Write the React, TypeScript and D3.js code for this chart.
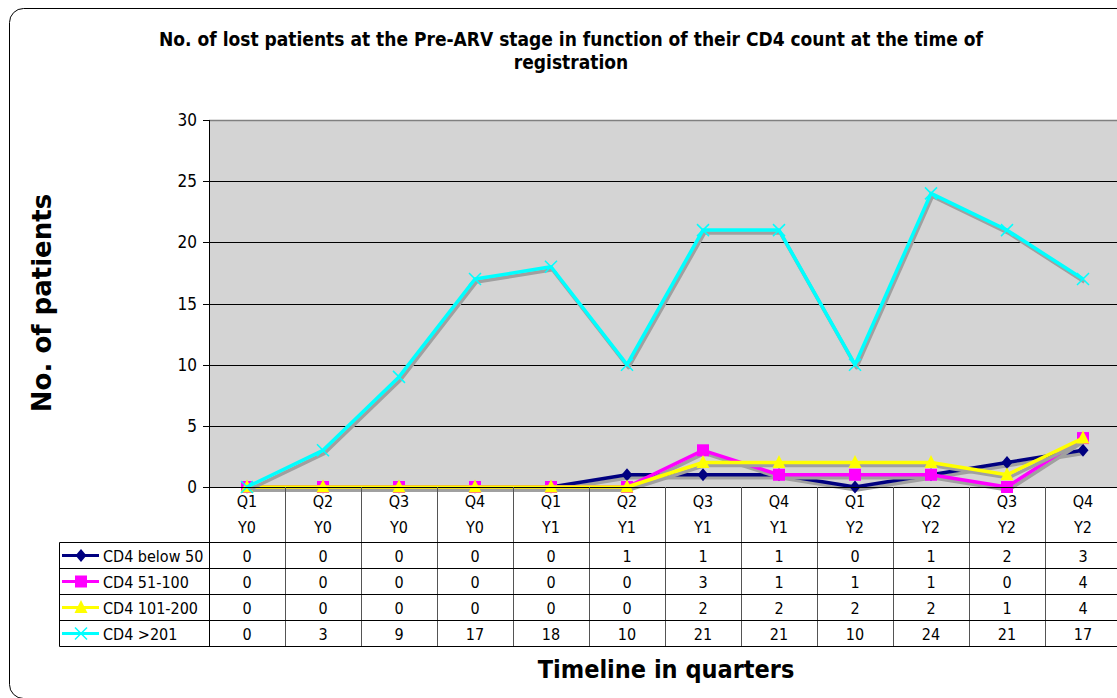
import React from "react";
import * as d3 from "d3";

const categoriesQ = ["Q1", "Q2", "Q3", "Q4", "Q1", "Q2", "Q3", "Q4", "Q1", "Q2", "Q3", "Q4"];
const categoriesY = ["Y0", "Y0", "Y0", "Y0", "Y1", "Y1", "Y1", "Y1", "Y2", "Y2", "Y2", "Y2"];
const seriesNames = ["CD4 below 50", "CD4 51-100", "CD4 101-200", "CD4 >201"];
const below50 = [0, 0, 0, 0, 0, 1, 1, 1, 0, 1, 2, 3];
const cd51to100 = [0, 0, 0, 0, 0, 0, 3, 1, 1, 1, 0, 4];
const cd101to200 = [0, 0, 0, 0, 0, 0, 2, 2, 2, 2, 1, 4];
const above201 = [0, 3, 9, 17, 18, 10, 21, 21, 10, 24, 21, 17];
const yTicks = [0, 5, 10, 15, 20, 25, 30];
const seriesColors = ["#000080", "#FF00FF", "#FFFF00", "#00FFFF"];
const seriesMarkers = ["diamond", "square", "triangle", "x"];

const W = 1117;
const H = 698;
const plotLeft = 209;
const plotRight = 1121;
const plotTop = 120;
const plotBottom = 487;
const rowTops = [542.5, 568.5, 594.5, 620.5];
const rowH = 26;
const tableLeft = 59.5;
const FONT = "Tahoma, 'DejaVu Sans Condensed', 'DejaVu Sans', sans-serif";

function Marker({ type, x, y, color }: { type: string; x: number; y: number; color: string }) {
  if (type === "diamond") {
    return <path d={`M${x},${y - 6.5}L${x + 5.5},${y}L${x},${y + 6.5}L${x - 5.5},${y}Z`} fill={color} />;
  }
  if (type === "square") {
    return <rect x={x - 6} y={y - 6} width={12} height={12} fill={color} />;
  }
  if (type === "triangle") {
    return <path d={`M${x},${y - 7.5}L${x + 6.5},${y + 5.5}L${x - 6.5},${y + 5.5}Z`} fill={color} />;
  }
  const s = 6;
  return (
    <path d={`M${x - s},${y - s}L${x + s},${y + s}M${x - s},${y + s}L${x + s},${y - s}`} stroke={color} strokeWidth={1.5} fill="none" />
  );
}

export default function App() {
  const data = [below50, cd51to100, cd101to200, above201];
  const idx = categoriesQ.map((_, i) => i);
  const x = d3.scaleBand<number>().domain(idx).range([plotLeft, plotRight]);
  const bw = x.bandwidth();
  const cx = (i: number) => (x(i) as number) + bw / 2;
  const y = d3.scaleLinear().domain([0, 30]).range([plotBottom, plotTop]);
  const line = d3
    .line<number>()
    .x((_, i) => cx(i))
    .y((d) => y(d));

  return (
    <svg width={W} height={H} style={{ position: "absolute", left: 0, top: 0, fontFamily: FONT }}>
      <rect x={0} y={0} width={W} height={H} fill="#fff" />
      <rect x={9.5} y={8.5} width={1200} height={690} rx={14} ry={14} fill="#fff" stroke="#000" strokeWidth={1} />

      {/* Title */}
      <text x={571} y={46} textAnchor="middle" fontWeight="bold" fontSize={19} fill="#000">
        No. of lost patients at the Pre-ARV stage in function of their CD4 count at the time of
      </text>
      <text x={571} y={69} textAnchor="middle" fontWeight="bold" fontSize={19} fill="#000">
        registration
      </text>

      {/* Plot area */}
      <rect x={plotLeft} y={plotTop} width={plotRight - plotLeft} height={plotBottom - plotTop} fill="#D4D4D4" />
      {yTicks.map((t) => (
        <g key={t}>
          <line
            x1={plotLeft - 6}
            x2={t === 0 || t === 30 ? plotLeft : plotRight}
            y1={Math.round(y(t)) + 0.5}
            y2={Math.round(y(t)) + 0.5}
            stroke="#000"
          />
          <text x={197} y={y(t) + 6} textAnchor="end" fontSize={17} fill="#000">
            {t}
          </text>
        </g>
      ))}
      <line x1={plotLeft} x2={plotRight} y1={plotTop + 0.5} y2={plotTop + 0.5} stroke="#808080" strokeWidth={1.5} />
      <line x1={plotLeft + 0.5} x2={plotLeft + 0.5} y1={plotTop} y2={plotBottom} stroke="#000" />

      {/* Series */}
      {data.map((vals, s) => (
        <g key={s}>
          <path d={line(vals) as string} transform="translate(1.5,3)" fill="none" stroke="#a0a0a0" strokeWidth={3.5} strokeLinejoin="round" />
          <path d={line(vals) as string} fill="none" stroke={seriesColors[s]} strokeWidth={3.5} strokeLinejoin="round" />
          {vals.map((v, i) => (
            <Marker key={i} type={seriesMarkers[s]} x={cx(i)} y={y(v)} color={seriesColors[s]} />
          ))}
        </g>
      ))}

      {/* x axis line */}
      <line x1={plotLeft - 6} x2={plotRight} y1={plotBottom + 0.5} y2={plotBottom + 0.5} stroke="#000" />

      {/* Table header */}
      {idx.map((i) => (
        <g key={i}>
          <text x={cx(i)} y={507} textAnchor="middle" fontSize={16} fill="#000">
            {categoriesQ[i]}
          </text>
          <text x={cx(i)} y={533} textAnchor="middle" fontSize={16} fill="#000">
            {categoriesY[i]}
          </text>
        </g>
      ))}
      {/* vertical grid lines */}
      {[...idx, 12].map((i) => {
        const xx = Math.round(i < 12 ? (x(i) as number) : plotRight) + 0.5;
        return <line key={i} x1={xx} x2={xx} y1={plotBottom} y2={rowTops[3] + rowH} stroke={i === 0 ? "#000" : "#555"} />;
      })}
      {/* horizontal table lines */}
      {[...rowTops, rowTops[3] + rowH].map((ty, k) => (
        <line key={k} x1={tableLeft} x2={plotRight} y1={ty} y2={ty} stroke="#000" />
      ))}
      <line x1={tableLeft} x2={tableLeft} y1={rowTops[0]} y2={rowTops[3] + rowH} stroke="#000" />

      {/* Table rows */}
      {data.map((vals, s) => {
        const ry = rowTops[s] + rowH / 2;
        return (
          <g key={s}>
            <line x1={62} x2={99} y1={ry} y2={ry} stroke={seriesColors[s]} strokeWidth={3} />
            <Marker type={seriesMarkers[s]} x={81} y={ry} color={seriesColors[s]} />
            <text x={103} y={ry + 6} fontSize={16} fill="#000">
              {seriesNames[s]}
            </text>
            {vals.map((v, i) => (
              <text key={i} x={cx(i)} y={ry + 6} textAnchor="middle" fontSize={16} fill="#000">
                {v}
              </text>
            ))}
          </g>
        );
      })}

      {/* Axis titles */}
      <text
        transform={`translate(51,303) rotate(-90)`}
        textAnchor="middle"
        fontWeight="bold"
        fontSize={26}
        fill="#000"
        style={{ fontFamily: "'DejaVu Sans', Verdana, sans-serif" }}
      >
        No. of patients
      </text>
      <text x={666} y={678} textAnchor="middle" fontWeight="bold" fontSize={25} fill="#000">
        Timeline in quarters
      </text>
    </svg>
  );
}
